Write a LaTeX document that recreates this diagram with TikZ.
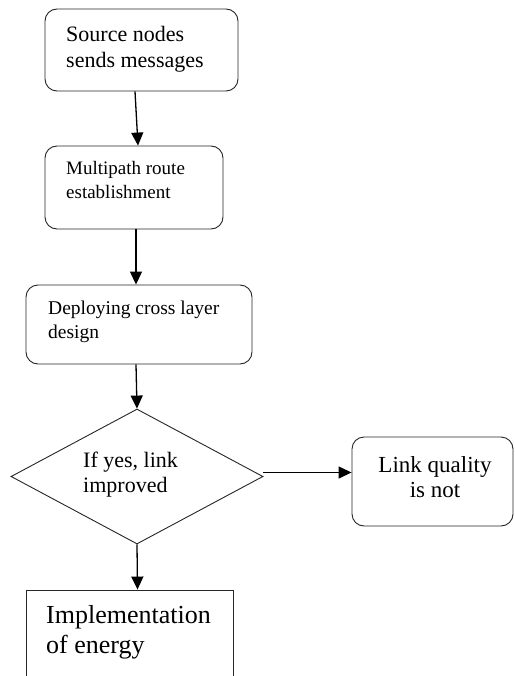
\documentclass[tikz,border=0pt]{standalone}
\usepackage{fontspec}
\setmainfont{Liberation Serif}
\usetikzlibrary{shapes.geometric,arrows.meta}
\tikzset{
  rbox/.style={draw=black!85, line width=0.9pt, rounded corners=12pt, inner sep=0pt},
  sbox/.style={draw=black!85, line width=0.9pt, inner sep=0pt},
  dbox/.style={draw=black!85, line width=0.9pt, shape=diamond, inner sep=0pt, aspect=1.867},
  txt/.style={inner sep=0pt, anchor=base west, align=left},
  conn/.style={line width=1.3pt, -{Triangle[length=13pt,width=12pt]}},
}
\begin{document}
\begin{tikzpicture}[x=1pt,y=-1pt]
\useasboundingbox (0,0) rectangle (514,676);
\clip (0,0) rectangle (514,676);
\fill[white] (0,0) rectangle (514,676);
% boxes
\node[rbox, minimum width=193pt, minimum height=82pt] (b1) at (141.5,50) {};
\node[rbox, minimum width=178pt, minimum height=83pt] (b2) at (134,187.5) {};
\node[rbox, minimum width=226pt, minimum height=79pt] (b3) at (139,324.5) {};
\node[dbox, minimum width=252pt, minimum height=135pt] (d) at (137,476.5) {};
\node[rbox, minimum width=161pt, minimum height=89pt] (lq) at (432.5,481.5) {};
\node[sbox, minimum width=207pt, minimum height=100pt] (b5) at (129.5,640) {};
% texts (anchored at the baseline of the last line)
\node[txt, font=\fontsize{22}{26}\selectfont] (t1) at (66,68) {Source nodes\\sends messages};
\node[txt, font=\fontsize{19}{24}\selectfont] (t2) at (66,199) {Multipath route\\establishment};
\node[txt, font=\fontsize{19.5}{23.5}\selectfont] (t3) at (48,338) {Deploying cross layer\\design};
\node[txt, font=\fontsize{22}{25}\selectfont] (t4) at (83,492) {If yes, link\\improved};
\node[inner sep=0pt, anchor=base, align=center, font=\fontsize{23}{25}\selectfont] (t5) at (435,497) {Link quality\\is not};
\node[txt, font=\fontsize{26}{30}\selectfont] (t6) at (46,653) {Implementation\\of energy};
% connectors
\draw[conn] ([xshift=-6.5pt]b1.south) -- ([xshift=4pt]b2.north);
\draw[conn] ([xshift=2pt]b2.south) -- ([xshift=-3pt]b3.north);
\draw[conn] ([xshift=-3pt]b3.south) -- (d.north);
\draw[conn] ([yshift=4pt]d.east) -- ([yshift=4pt]d.east -| lq.west);
\draw[conn] (d.south) -- ([xshift=8pt]b5.north);
\end{tikzpicture}
\end{document}
